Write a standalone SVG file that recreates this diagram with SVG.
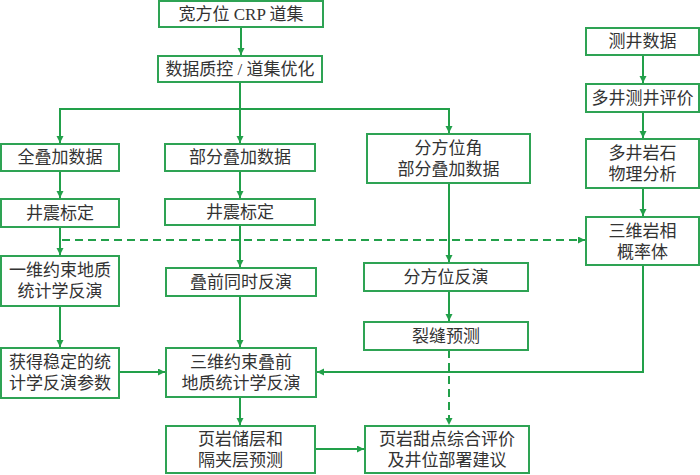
<svg xmlns="http://www.w3.org/2000/svg" width="700" height="475" viewBox="0 0 700 475">
<style>
.box{fill:#fff;stroke:#2ea354;stroke-width:2}
.t{font-family:"Liberation Serif","Noto Sans CJK SC",serif;font-size:17px;fill:#333;text-anchor:middle;dominant-baseline:central}
.c{fill:none;stroke:#22a04a;stroke-width:2}
.d{stroke-dasharray:8 5}
</style>
<defs>
<marker id="a" markerUnits="userSpaceOnUse" markerWidth="8" markerHeight="8" refX="7" refY="3.5" orient="auto">
<path d="M0,0 L7,3.5 L0,7 z" fill="#22a04a"/>
</marker>
</defs>
<rect width="700" height="475" fill="#fff"/>
<g id="connectors">
<path class="c" d="M241,27 V55" marker-end="url(#a)"/>
<path class="c" d="M240,82 V109 M60,109 H449"/>
<path class="c" d="M60,108 V143" marker-end="url(#a)"/>
<path class="c" d="M240,108 V143" marker-end="url(#a)"/>
<path class="c" d="M449,108 V133" marker-end="url(#a)"/>
<path class="c" d="M60,171 V198" marker-end="url(#a)"/>
<path class="c" d="M240,171 V198" marker-end="url(#a)"/>
<path class="c" d="M60,227 V255" marker-end="url(#a)"/>
<path class="c" d="M240,225 V267" marker-end="url(#a)"/>
<path class="c" d="M449,183 V262" marker-end="url(#a)"/>
<path class="c" d="M449,291 V321" marker-end="url(#a)"/>
<path class="c d" d="M449,350 V425" marker-end="url(#a)"/>
<path class="c d" d="M62,240 H585" marker-end="url(#a)"/>
<path class="c" d="M643,55 V83" marker-end="url(#a)"/>
<path class="c" d="M643,112 V138" marker-end="url(#a)"/>
<path class="c" d="M643,188 V216" marker-end="url(#a)"/>
<path class="c" d="M60,306 V347" marker-end="url(#a)"/>
<path class="c" d="M240,296 V347" marker-end="url(#a)"/>
<path class="c" d="M119,372 H165" marker-end="url(#a)"/>
<path class="c" d="M643,265 V372 H317" marker-end="url(#a)"/>
<path class="c" d="M240,397 V425" marker-end="url(#a)"/>
<path class="c" d="M315,449 H364" marker-end="url(#a)"/>
</g>
<g id="n1"><rect class="box" x="159" y="1" width="164" height="26"/><text class="t" x="241" y="14">宽方位 CRP 道集</text></g>
<g id="n2"><rect class="box" x="158" y="56" width="164" height="26"/><text class="t" x="240" y="69">数据质控 / 道集优化</text></g>
<g id="n3"><rect class="box" x="1" y="144" width="118" height="27"/><text class="t" x="60" y="157.5">全叠加数据</text></g>
<g id="n4"><rect class="box" x="165" y="144" width="150" height="27"/><text class="t" x="240" y="157.5">部分叠加数据</text></g>
<g id="n5"><rect class="box" x="367" y="134" width="163" height="49"/><text class="t" x="448.5" y="148">分方位角</text><text class="t" x="448.5" y="169">部分叠加数据</text></g>
<g id="n6"><rect class="box" x="1" y="199" width="118" height="28"/><text class="t" x="60" y="213">井震标定</text></g>
<g id="n7"><rect class="box" x="165" y="199" width="150" height="26"/><text class="t" x="240" y="212">井震标定</text></g>
<g id="n8"><rect class="box" x="586" y="28" width="113" height="27"/><text class="t" x="642.5" y="41.5">测井数据</text></g>
<g id="n9"><rect class="box" x="586" y="84" width="113" height="28"/><text class="t" x="642.5" y="98">多井测井评价</text></g>
<g id="n10"><rect class="box" x="586" y="139" width="113" height="49"/><text class="t" x="642.5" y="153">多井岩石</text><text class="t" x="642.5" y="174">物理分析</text></g>
<g id="n11"><rect class="box" x="586" y="217" width="113" height="48"/><text class="t" x="642.5" y="231">三维岩相</text><text class="t" x="642.5" y="252">概率体</text></g>
<g id="n12"><rect class="box" x="1" y="256" width="118" height="50"/><text class="t" x="60" y="270.5">一维约束地质</text><text class="t" x="60" y="291.5">统计学反演</text></g>
<g id="n13"><rect class="box" x="166" y="268" width="150" height="28"/><text class="t" x="241" y="282">叠前同时反演</text></g>
<g id="n14"><rect class="box" x="364" y="263" width="164" height="28"/><text class="t" x="446" y="277">分方位反演</text></g>
<g id="n15"><rect class="box" x="364" y="322" width="164" height="28"/><text class="t" x="446" y="336">裂缝预测</text></g>
<g id="n16"><rect class="box" x="1" y="348" width="118" height="50"/><text class="t" x="60" y="362.5">获得稳定的统</text><text class="t" x="60" y="383.5">计学反演参数</text></g>
<g id="n17"><rect class="box" x="166" y="348" width="150" height="49"/><text class="t" x="241" y="362">三维约束叠前</text><text class="t" x="241" y="383">地质统计学反演</text></g>
<g id="n18"><rect class="box" x="166" y="426" width="149" height="47"/><text class="t" x="240.5" y="439">页岩储层和</text><text class="t" x="240.5" y="460">隔夹层预测</text></g>
<g id="n19"><rect class="box" x="365" y="426" width="164" height="47"/><text class="t" x="447" y="439">页岩甜点综合评价</text><text class="t" x="447" y="460">及井位部署建议</text></g>
</svg>
